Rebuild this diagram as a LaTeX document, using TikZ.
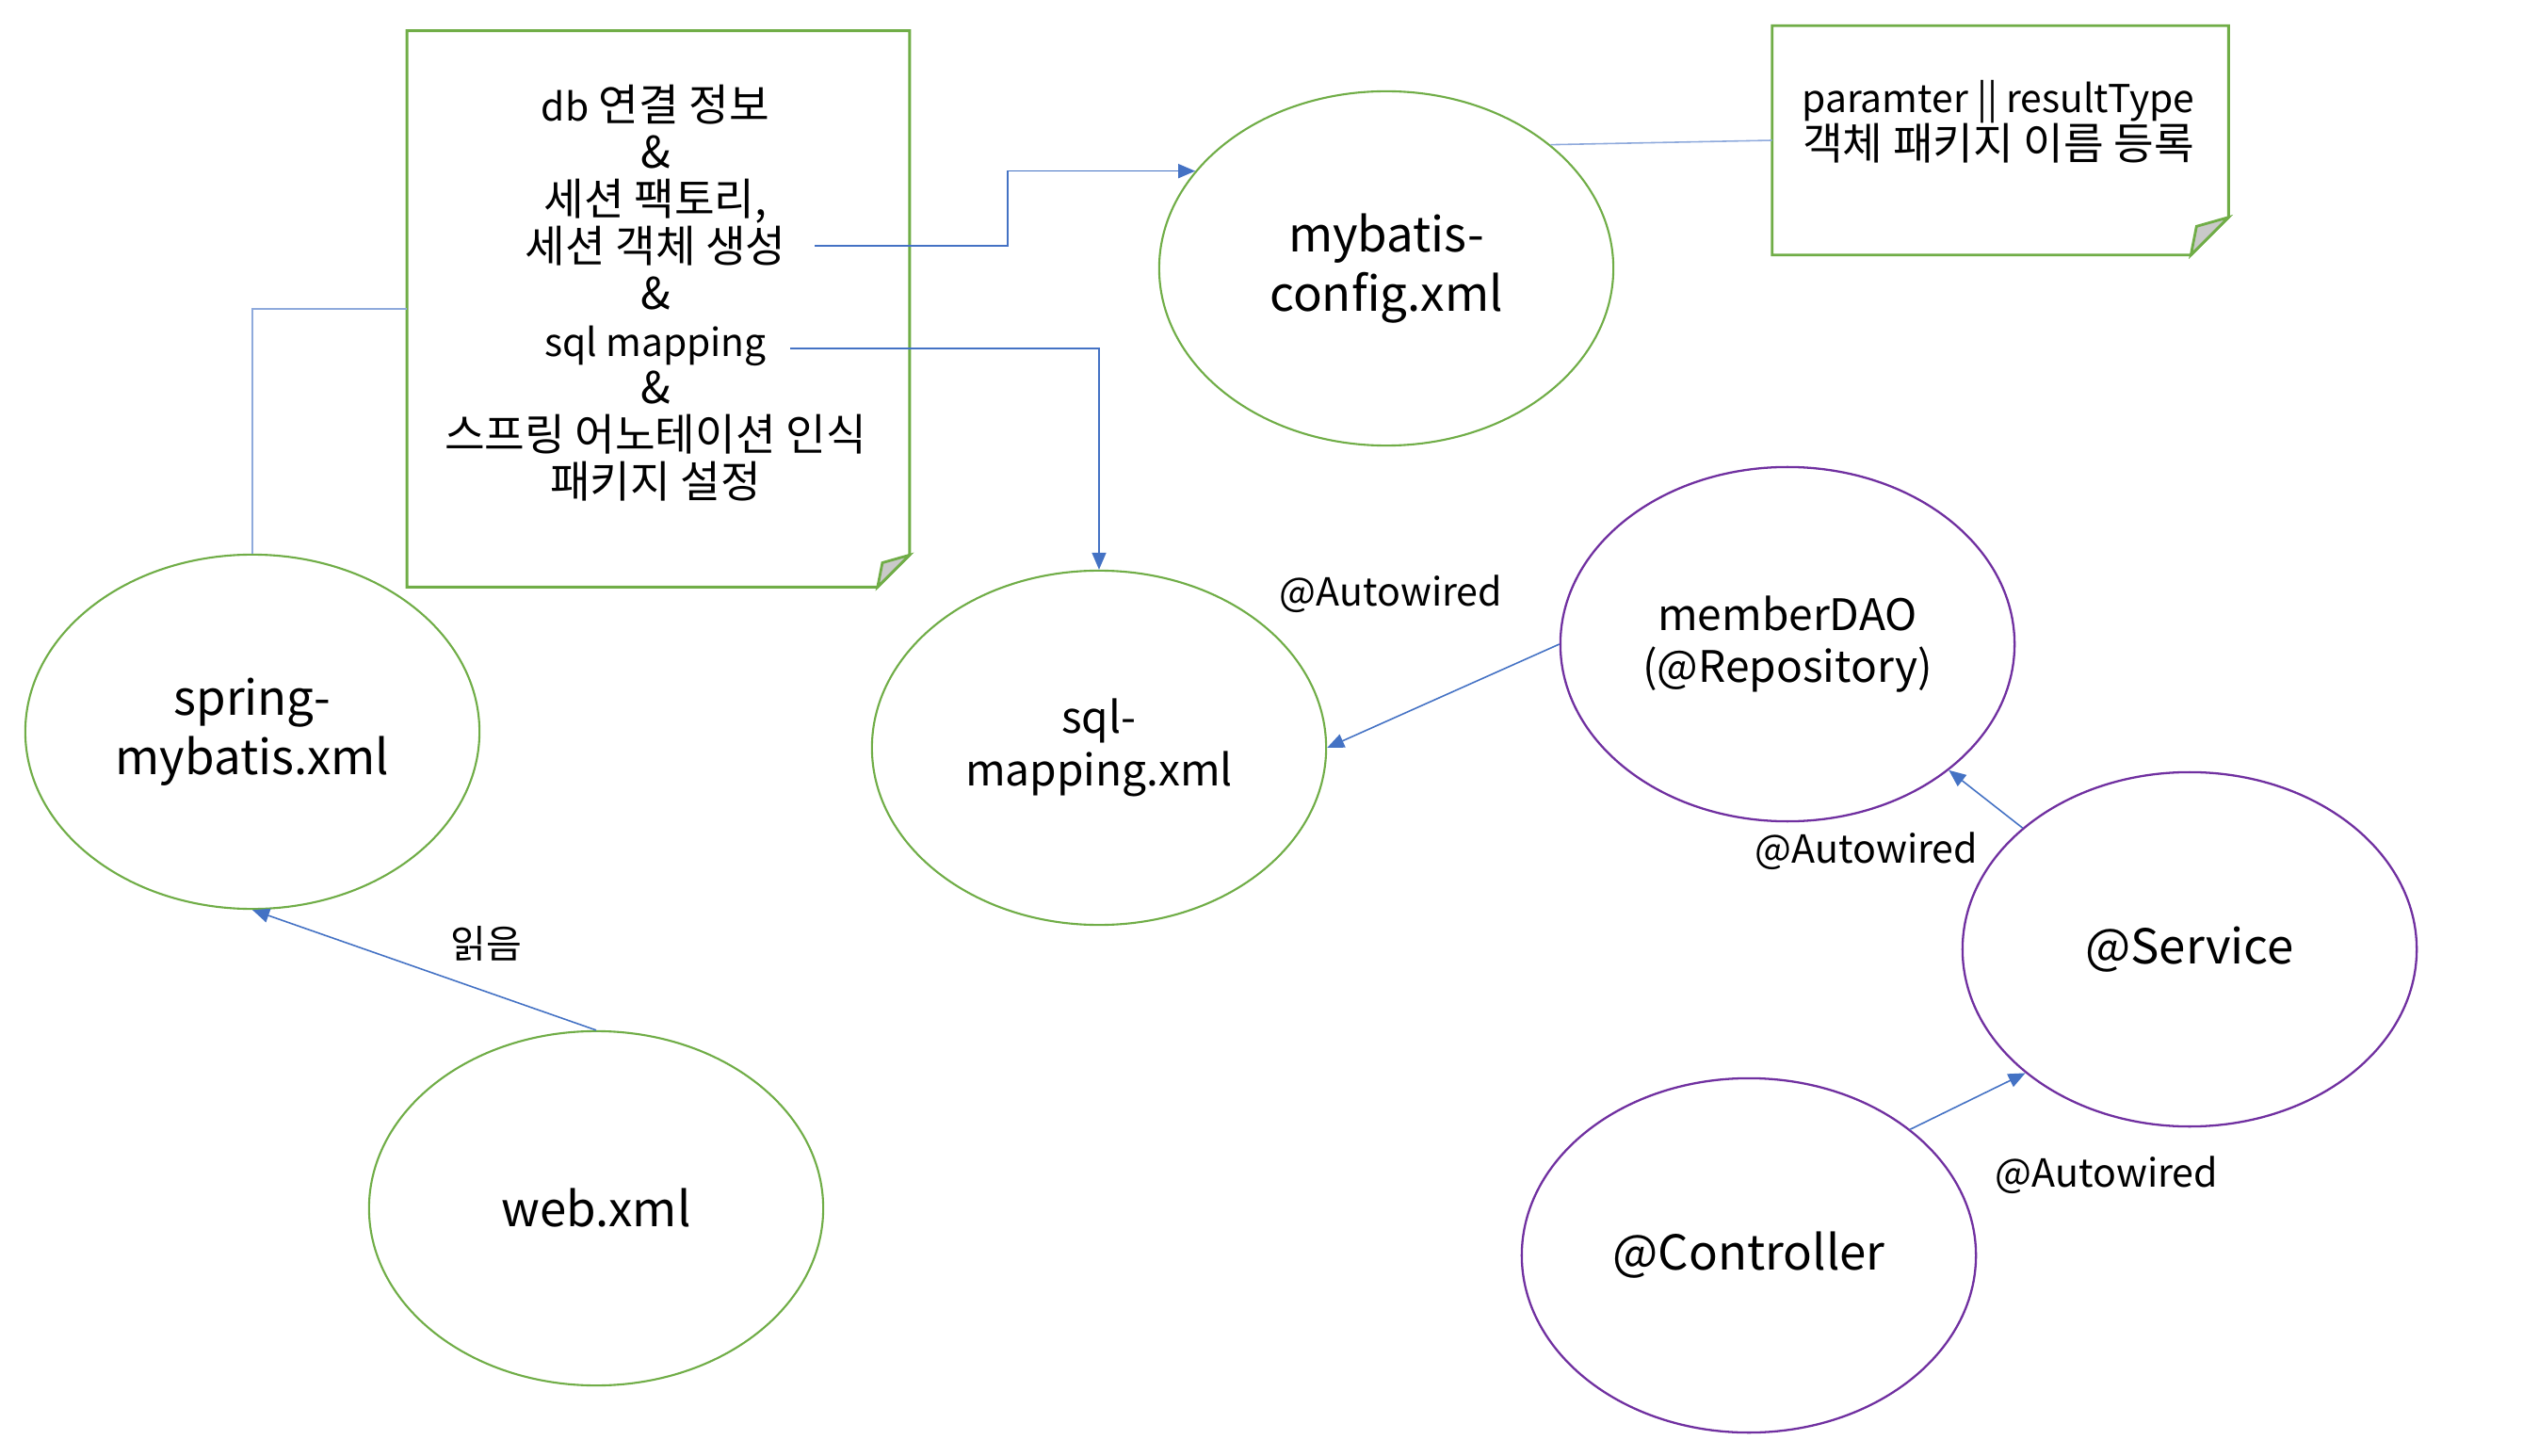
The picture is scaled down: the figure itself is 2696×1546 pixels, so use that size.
\documentclass[tikz,border=0pt]{standalone}
\usepackage{fontspec}
\setmainfont{Noto Sans CJK KR}
\usetikzlibrary{shapes.geometric,arrows.meta,positioning}

\definecolor{leafgreen}{HTML}{70AD47}
\definecolor{beanpurple}{HTML}{7030A0}
\definecolor{wireblue}{HTML}{4472C4}
\definecolor{paleblue}{HTML}{8FAADC}
\definecolor{foldgray}{HTML}{C9C9C9}

% latin words inside the korean notes run a little smaller
\newcommand{\engtxt}[1]{{\fontsize{11.6}{14.2}\selectfont #1}}

% note outline with a folded corner: #1 node, #2 fold size
\newcommand{\dogear}[2]{%
  \draw[notebox] (#1.north west) -- (#1.north east) -- ([yshift=#2]#1.south east)
    -- ([xshift=-#2]#1.south east) -- (#1.south west) -- cycle;
  \draw[notebox, fill=foldgray] ([yshift=#2]#1.south east)
    -- ([xshift=-0.85*#2, yshift=0.76*#2]#1.south east) -- ([xshift=-#2]#1.south east) -- cycle;
}

\begin{document}
\begin{tikzpicture}[
    x=0.01cm, y=-0.01cm,
    filenode/.style={ellipse, draw=leafgreen, line width=0.6pt, minimum width=4.82cm, minimum height=3.76cm,
      inner sep=0pt, align=center, font=\fontsize{14.5}{18}\selectfont},
    smallfile/.style={filenode, font=\fontsize{13.1}{15.8}\selectfont},
    beannode/.style={filenode, draw=beanpurple, line width=0.65pt},
    notebox/.style={draw=leafgreen, line width=0.8pt, line join=miter},
    notetext/.style={align=center, font=\fontsize{13.2}{14.2}\selectfont},
    wire/.style={draw=wireblue, line width=0.45pt, -{Triangle[length=0.18cm, width=0.15cm]}},
    paleline/.style={draw=paleblue, line width=0.45pt},
    tag/.style={font=\fontsize{11.7}{14}\selectfont}
]
\useasboundingbox (0,0) rectangle (2696,1546);

% Notes
\node[inner sep=0pt, minimum width=5.32cm, minimum height=5.89cm] (dbnote) at (699,328) {};
\dogear{dbnote}{0.34cm}
\node[notetext] (dbtext) at (696,311) {\engtxt{db} 연결 정보\\\&\\세션 팩토리,\\세션 객체 생성\\\&\\\engtxt{sql mapping}\\\&\\스프링 어노테이션 인식\\패키지 설정};
\coordinate (sessEnd) at (865,261);
\coordinate (sqlEnd) at (839,370);

\node[inner sep=0pt, minimum width=4.83cm, minimum height=2.42cm] (typenote) at (2124,149) {};
\dogear{typenote}{0.4cm}
\node[notetext] (typetext) at (2122,129) {\engtxt{paramter || resultType}\\객체 패키지 이름 등록};

% XML files
\node[filenode] (spring) at (268,777) {spring-\\mybatis.xml};
\node[filenode] (web) at (633,1283) {web.xml};
\node[smallfile] (sqlmap) at (1167,794) {sql-\\mapping.xml};
\node[filenode] (cfg) at (1472,285) {mybatis-\\config.xml};

% Beans
\node[beannode, font=\fontsize{13.1}{15.8}\selectfont] (dao) at (1898,684) {memberDAO\\(@Repository)};
\node[beannode] (svc) at (2325,1008) {@Service};
\node[beannode] (ctrl) at (1857,1333) {@Controller};

% Connectors
\draw[wire] (sessEnd) -- ++(205,0) |- (cfg.153);
\draw[wire] (sqlEnd) -| (sqlmap.north);
\draw[paleline] (dbnote.west) -| (spring.north);
\draw[paleline] (cfg.37) -- (typenote.west);
\draw[wire] (dao.west) -- (sqlmap.east);
\draw[wire] (svc.144) -- (dao.-38);
\draw[wire] (ctrl.38) -- (svc.217);
\draw[wire] (web.north) -- (spring.south);

% Labels
\node[tag] (readtag) at (516,1002) {읽음};
\node[tag] (daotag) at (1477,631) {@Autowired};
\node[tag] (svctag) at (1982,904) {@Autowired};
\node[tag] (ctrltag) at (2237,1248) {@Autowired};

\end{tikzpicture}
\end{document}
